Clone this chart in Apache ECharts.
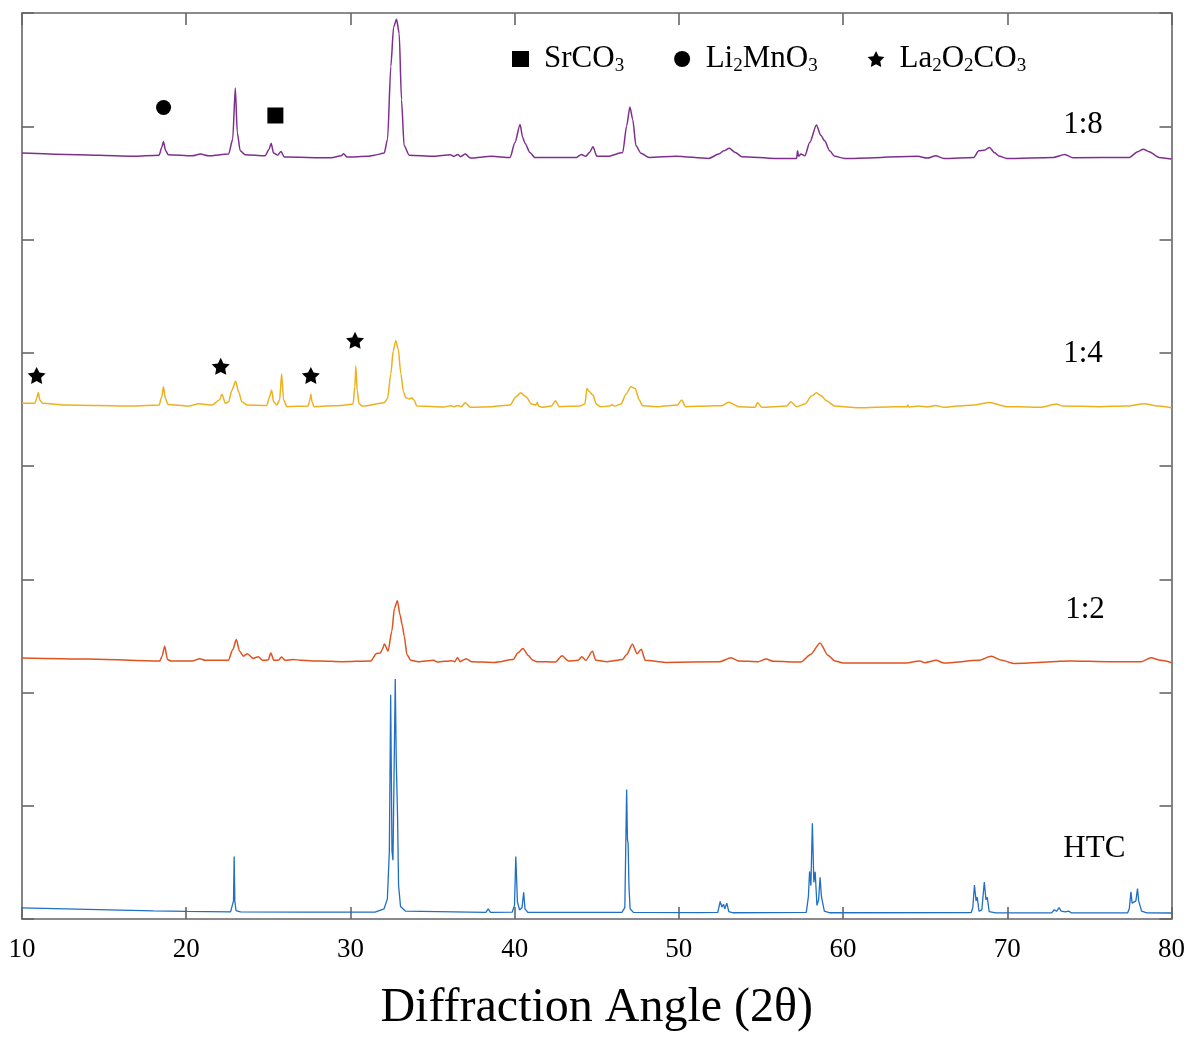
<!DOCTYPE html>
<html>
<head>
<meta charset="utf-8">
<title>XRD patterns</title>
<script src="https://cdn.jsdelivr.net/npm/echarts@6/dist/echarts.min.js"></script>
<style>
  html, body { margin: 0; padding: 0; background: #fff; overflow: hidden; }
  #chart { width: 1188px; height: 1037px; }
</style>
</head>
<body>
<div id="chart"></div>
<script>
// 2θ range and tick step of the diffraction axis
const thetaRange = [10, 80];
const thetaStep = 10;
// stacked intensity axis (arbitrary units, one tick per unit)
const intensityRange = [0, 8];

// patterns as [2θ, stacked intensity]
const patternHTC = [
  [10,0.099],[14,0.085],[18,0.072],[20,0.067],[22.7,0.063],[22.82,0.075],[22.88,0.16],[22.92,0.551],[22.96,0.16],[23.03,0.075],[23.3,0.063],
  [27,0.061],[31.5,0.061],[32.05,0.09],[32.25,0.178],[32.37,0.6],[32.45,1.98],[32.53,0.6],[32.59,0.519],[32.65,1.2],[32.73,2.12],[32.79,1.4],[32.83,1.155],[32.87,0.9],[32.93,0.3],[33.05,0.11],[33.35,0.07],
  [38.25,0.058],[38.39,0.09],[38.53,0.058],
  [39.85,0.06],[39.99,0.12],[40.07,0.551],[40.12,0.353],[40.17,0.15],[40.3,0.08],[40.45,0.1],[40.55,0.236],[40.63,0.09],[40.8,0.058],
  [46.53,0.058],[46.71,0.1],[46.82,1.143],[46.87,0.7],[46.91,0.668],[46.96,0.3],[47.03,0.09],[47.23,0.058],
  [51.0,0.056],[51.1,0.068],[51.2,0.056],
  [52.37,0.058],[52.52,0.155],[52.62,0.105],[52.72,0.13],[52.8,0.09],[52.92,0.14],[53.04,0.065],[53.3,0.055],
  [57.76,0.058],[57.89,0.2],[57.96,0.42],[58.04,0.295],[58.13,0.846],[58.22,0.324],[58.3,0.417],[58.41,0.12],[58.51,0.17],[58.6,0.368],[58.68,0.2],[58.75,0.213],[58.86,0.07],[59.2,0.055],
  [67.8,0.057],[67.9,0.1],[68.0,0.3],[68.1,0.16],[68.17,0.192],[68.28,0.07],[68.45,0.08],[68.6,0.327],[68.7,0.17],[68.78,0.192],[68.9,0.065],[69.3,0.054],
  [72.7,0.054],[72.86,0.082],[73.0,0.068],[73.15,0.1],[73.28,0.07],[73.38,0.08],[73.53,0.063],[73.73,0.07],[73.9,0.054],
  [77.33,0.055],[77.43,0.09],[77.53,0.239],[77.6,0.14],[77.7,0.134],[77.83,0.16],[77.93,0.268],[78.0,0.16],[78.08,0.155],[78.18,0.07],[78.5,0.054],[80,0.053]
];

const pattern12 = [
  [10,2.304],[14,2.295],[18.39,2.278],[18.53,2.321],[18.69,2.409],[18.86,2.292],[19.09,2.278],[20.36,2.278],[20.82,2.298],[21.17,2.284],
  [22.56,2.284],[22.84,2.38],[23.05,2.467],[23.25,2.365],[23.48,2.321],[23.72,2.342],[24.07,2.301],[24.39,2.316],[24.65,2.284],[24.99,2.287],
  [25.15,2.348],[25.34,2.284],[25.64,2.287],[25.8,2.313],[26.03,2.284],[26.5,2.292],[26.96,2.284],[28.12,2.278],[29.5,2.272],[31.24,2.278],
  [31.59,2.345],[31.82,2.348],[31.94,2.38],[32.07,2.429],[32.29,2.365],[32.52,2.54],[32.68,2.744],[32.86,2.811],[33.02,2.686],[33.16,2.59],
  [33.28,2.496],[33.44,2.336],[33.67,2.284],[34.14,2.272],[35.06,2.284],[35.29,2.269],[36.17,2.281],[36.36,2.272],[36.52,2.31],[36.68,2.272],
  [36.87,2.287],[37.05,2.298],[37.37,2.272],[38.77,2.266],[39.92,2.292],[40.2,2.35],[40.5,2.389],[40.85,2.324],[41.08,2.287],[41.36,2.272],
  [42.47,2.269],[42.89,2.324],[43.28,2.278],[43.86,2.284],[44.09,2.316],[44.33,2.284],[44.74,2.365],[44.94,2.284],[45.64,2.272],[46.58,2.292],
  [46.82,2.336],[47.17,2.426],[47.46,2.342],[47.71,2.383],[47.95,2.284],[49.18,2.266],[52.47,2.272],[53.18,2.307],[53.65,2.278],[54.83,2.272],
  [55.31,2.295],[55.78,2.275],[57.43,2.269],[58.02,2.336],[58.6,2.438],[59.07,2.33],[59.5,2.278],[60.02,2.26],[63.79,2.26],[64.68,2.278],
  [64.97,2.263],[65.67,2.284],[66.15,2.26],[68.26,2.284],[69.02,2.319],[69.68,2.284],[70.39,2.257],[73.88,2.278],[76.16,2.272],[78.17,2.272],
  [78.75,2.307],[79.34,2.284],[80,2.263]
];

const pattern14 = [
  [10,4.553],[10.79,4.553],[10.89,4.596],[10.99,4.649],[11.09,4.582],[11.25,4.553],[12.7,4.538],[16.73,4.529],[18.35,4.538],[18.51,4.611],
  [18.61,4.699],[18.73,4.596],[18.89,4.544],[20.16,4.529],[20.77,4.55],[21.57,4.538],[22.02,4.582],[22.18,4.634],[22.38,4.553],[22.58,4.567],
  [22.78,4.669],[23.01,4.748],[23.19,4.655],[23.39,4.567],[23.69,4.538],[24.9,4.535],[25.08,4.611],[25.2,4.672],[25.32,4.567],[25.51,4.538],
  [25.69,4.582],[25.81,4.812],[25.93,4.582],[26.13,4.524],[27.42,4.529],[27.53,4.582],[27.59,4.634],[27.66,4.567],[27.78,4.524],[29.44,4.535],
  [30.16,4.547],[30.27,4.699],[30.33,4.882],[30.41,4.669],[30.53,4.547],[30.75,4.529],[32.06,4.559],[32.26,4.596],[32.46,4.815],[32.61,5.019],
  [32.76,5.107],[32.91,5.034],[33.07,4.815],[33.23,4.655],[33.37,4.602],[33.58,4.591],[33.73,4.602],[33.88,4.582],[34.04,4.529],[35.69,4.521],
  [36.09,4.532],[36.33,4.524],[36.54,4.535],[36.74,4.524],[37.0,4.559],[37.3,4.518],[38.61,4.524],[39.72,4.538],[40.08,4.611],[40.37,4.646],
  [40.69,4.611],[41.03,4.547],[41.29,4.538],[41.38,4.561],[41.46,4.529],[41.64,4.518],[42.24,4.529],[42.49,4.576],[42.71,4.524],[43.96,4.529],
  [44.28,4.547],[44.4,4.684],[44.56,4.655],[44.77,4.626],[44.97,4.547],[45.21,4.524],[45.77,4.529],[45.93,4.541],[46.1,4.529],[46.48,4.547],
  [46.78,4.634],[47.08,4.699],[47.34,4.684],[47.59,4.582],[47.79,4.532],[48.8,4.524],[49.91,4.538],[50.17,4.582],[50.41,4.524],[51.82,4.529],
  [52.12,4.532],[52.63,4.532],[53.03,4.564],[53.64,4.524],[54.65,4.518],[54.79,4.561],[55.05,4.518],[56.56,4.529],[56.82,4.567],[57.17,4.524],
  [57.67,4.547],[58.08,4.617],[58.38,4.646],[58.68,4.62],[58.98,4.576],[59.49,4.529],[60.9,4.515],[63.12,4.524],[63.88,4.524],[63.94,4.538],
  [64.0,4.521],[64.63,4.529],[65.13,4.521],[65.64,4.535],[66.14,4.518],[66.94,4.529],[67.96,4.538],[68.92,4.561],[69.97,4.524],[70.78,4.524],
  [71.99,4.518],[72.99,4.547],[73.4,4.529],[75.62,4.524],[77.23,4.529],[78.34,4.55],[79.25,4.529],[80,4.515]
];

const pattern18 = [
  [10,6.763],[12.7,6.751],[16.73,6.736],[18.35,6.745],[18.51,6.812],[18.61,6.865],[18.75,6.783],[18.91,6.748],[20.36,6.739],[20.87,6.754],
  [21.37,6.739],[22.58,6.754],[22.83,6.885],[22.99,7.337],[23.11,6.943],[23.29,6.783],[23.59,6.748],[24.8,6.739],[25.05,6.798],[25.17,6.85],
  [25.32,6.763],[25.57,6.745],[25.77,6.777],[25.97,6.728],[28.83,6.722],[29.44,6.739],[29.58,6.757],[29.8,6.728],[31.05,6.734],[31.46,6.745],
  [32.06,6.763],[32.26,6.885],[32.46,7.527],[32.63,7.877],[32.81,7.944],[32.97,7.818],[33.11,7.235],[33.27,6.827],[33.58,6.745],[35.09,6.734],
  [36.09,6.748],[36.3,6.734],[36.54,6.751],[36.7,6.731],[37.0,6.754],[37.3,6.719],[38.61,6.734],[39.72,6.725],[40.02,6.856],[40.33,7.016],
  [40.49,6.9],[40.63,6.85],[40.93,6.768],[41.23,6.725],[43.76,6.725],[44.06,6.751],[44.32,6.734],[44.56,6.768],[44.77,6.818],[45.01,6.734],
  [45.67,6.734],[46.58,6.768],[46.82,7.002],[47.02,7.171],[47.19,7.06],[47.39,6.827],[47.69,6.762],[48.19,6.725],[49.81,6.736],[51.82,6.716],
  [52.43,6.754],[52.73,6.783],[53.07,6.806],[53.44,6.768],[53.84,6.731],[55.86,6.716],[57.17,6.716],[57.23,6.783],[57.29,6.734],[57.43,6.754],
  [57.67,6.739],[57.97,6.856],[58.38,7.011],[58.64,6.92],[58.88,6.871],[59.18,6.783],[59.49,6.734],[60.1,6.716],[64.53,6.734],[65.13,6.719],
  [65.64,6.739],[66.14,6.716],[67.96,6.725],[68.26,6.783],[68.6,6.789],[68.92,6.812],[69.21,6.768],[69.53,6.734],[69.97,6.716],[72.79,6.725],
  [73.5,6.751],[74.0,6.722],[77.43,6.725],[77.94,6.774],[78.28,6.798],[78.64,6.774],[79.25,6.725],[80,6.71]
];

const sampleNames = ['HTC', '1:2', '1:4', '1:8'];
const samplePatterns = [patternHTC, pattern12, pattern14, pattern18];
const sampleColors = ['#1f6fc5', '#e0521f', '#edb120', '#7e2f8e'];

// phase identification marks, placed over the assigned reflections
const phaseNames = ['SrCO3', 'Li2MnO3', 'La2O2CO3'];
const phaseMarks = [
  [[25.43, 7.095]],
  [[18.62, 7.165]],
  [[10.89, 4.80], [22.1, 4.88], [27.59, 4.80], [30.28, 5.11]]
];

const FONT = 'Liberation Serif';
const AXIS_COLOR = '#666';
const STAR = 'path://M0,-10L2.94,-4.05L9.51,-3.09L4.76,1.55L5.88,8.09L0,5L-5.88,8.09L-4.76,1.55L-9.51,-3.09L-2.94,-4.05Z';
const phaseSymbols = ['rect', 'circle', STAR];
const phaseSymbolSizes = [[16, 16], 15, [18, 17]];
const phaseRich = {
  'SrCO3': 'SrCO{s|3}',
  'Li2MnO3': 'Li{s|2}MnO{s|3}',
  'La2O2CO3': 'La{s|2}O{s|2}CO{s|3}'
};

// anchor points of the sample names, in data coordinates
const sampleLabelAnchors = [[75.3, 0.621], [74.73, 2.73], [74.61, 4.991], [74.61, 7.008]];

const axisLineStyle = { color: AXIS_COLOR, width: 1.6 };

function xAxisDef(pos, withLabels) {
  return {
    type: 'value', position: pos,
    min: thetaRange[0], max: thetaRange[1], interval: thetaStep,
    axisLine: { show: true, onZero: false, lineStyle: axisLineStyle },
    axisTick: { show: true, inside: true, length: 12, lineStyle: axisLineStyle },
    axisLabel: withLabels
      ? { show: true, fontFamily: FONT, fontSize: 27, color: '#000', margin: 17 }
      : { show: false },
    splitLine: { show: false },
    name: withLabels ? 'Diffraction Angle (2θ)' : '',
    nameLocation: 'middle',
    nameGap: 65,
    nameTextStyle: { fontFamily: FONT, fontSize: 48, color: '#000' }
  };
}

function yAxisDef(pos) {
  return {
    type: 'value', position: pos,
    min: intensityRange[0], max: intensityRange[1], interval: 1,
    axisLine: { show: true, onZero: false, lineStyle: axisLineStyle },
    axisTick: { show: true, inside: true, length: 12, lineStyle: axisLineStyle },
    axisLabel: { show: false },
    splitLine: { show: false }
  };
}

const series = [];
samplePatterns.forEach(function (data, i) {
  series.push({
    name: sampleNames[i],
    type: 'line',
    data: data,
    showSymbol: false,
    symbol: 'none',
    smooth: i === 0 ? false : 0.25,
    smoothMonotone: 'x',
    lineStyle: { color: sampleColors[i], width: i === 0 ? 1.3 : 1.5 },
    z: 2
  });
});

phaseNames.forEach(function (name, i) {
  series.push({
    name: name,
    type: 'scatter',
    data: phaseMarks[i],
    symbol: phaseSymbols[i],
    symbolSize: phaseSymbolSizes[i],
    itemStyle: { color: '#000', opacity: 1 },
    z: 3
  });
});

const option = {
  animation: false,
  backgroundColor: '#fff',
  grid: { left: 22, right: 9, top: 13, bottom: 110, containLabel: false },
  xAxis: [xAxisDef('bottom', true), xAxisDef('top', false)],
  yAxis: [yAxisDef('left'), yAxisDef('right')],
  legend: {
    show: true,
    left: 507,
    top: 37,
    orient: 'horizontal',
    itemWidth: 17,
    itemHeight: 16,
    itemGap: 50,
    selectedMode: false,
    data: phaseNames.map(function (n, i) {
      return { name: n, icon: phaseSymbols[i], itemStyle: { color: '#000', opacity: 1 } };
    }),
    formatter: function (name) { return phaseRich[name]; },
    textStyle: {
      fontFamily: FONT, fontSize: 31, color: '#000', lineHeight: 34,
      padding: [0, 0, 0, 10],
      rich: {
        s: { fontFamily: FONT, fontSize: 19, color: '#000', lineHeight: 18, verticalAlign: 'bottom' }
      }
    }
  },
  series: series
};

const chart = echarts.init(document.getElementById('chart'), null, { renderer: 'canvas', width: 1188, height: 1037 });
chart.setOption(option);

// sample names, placed at their data-coordinate anchors
chart.setOption({
  graphic: sampleNames.map(function (n, i) {
    const p = chart.convertToPixel({ gridIndex: 0 }, sampleLabelAnchors[i]);
    return {
      type: 'text',
      x: p[0],
      y: p[1],
      z: 10,
      silent: true,
      style: {
        text: n,
        fill: '#000',
        font: '31px "Liberation Serif"',
        textAlign: 'center',
        textVerticalAlign: 'middle'
      }
    };
  })
});
</script>
</body>
</html>
